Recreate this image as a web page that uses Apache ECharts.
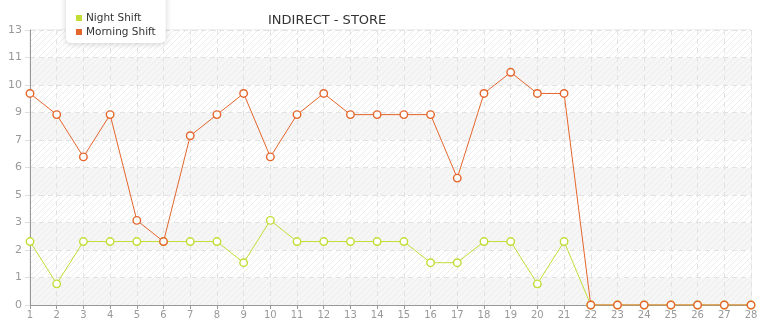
<!DOCTYPE html>
<html><head><meta charset="utf-8">
<script src="https://cdn.jsdelivr.net/npm/echarts@6/dist/echarts.min.js"></script>
<style>html,body{margin:0;padding:0;background:#fff}#c{width:765px;height:320px}</style>
</head><body><div id="c"></div>
<script>
var categories = ['1','2','3','4','5','6','7','8','9','10','11','12','13','14','15','16','17','18','19','20','21','22','23','24','25','26','27','28'];
var nightShift = [3,1,3,3,3,3,3,3,2,4,3,3,3,3,3,2,2,3,3,1,3,0,0,0,0,0,0,0];
var morningShift = [10,9,7,9,4,3,8,9,10,7,9,10,9,9,9,9,6,10,11,10,10,0,0,0,0,0,0,0];
var yTickLabels = ['0','1','2','3','5','6','7','9','10','11','13'];
var seriesNames = ['Night Shift','Morning Shift'];
var seriesColors = ['#c2dd35','#e4662c'];

function hatch(bg){
  var c = document.createElement('canvas'); c.width = 6; c.height = 6;
  var g = c.getContext('2d'); g.fillStyle = bg; g.fillRect(0,0,6,6);
  g.strokeStyle = '#ececec'; g.lineWidth = 1;
  g.beginPath(); g.moveTo(-1,7); g.lineTo(7,-1); g.moveTo(-1,1); g.lineTo(1,-1); g.moveTo(5,7); g.lineTo(7,5); g.stroke();
  return {image: c, repeat: 'repeat'};
}
var chart = echarts.init(document.getElementById('c'), null, {renderer:'canvas'});
var font = 'Verdana, "DejaVu Sans", sans-serif';
chart.setOption({
  animation:false,
  textStyle:{fontFamily:font},
  title:{text:'INDIRECT - STORE', left:263, top:9, textStyle:{fontSize:13, fontWeight:'normal', color:'#333', fontFamily:font}},
  legend:{data:[{name:seriesNames[0], itemStyle:{color:seriesColors[0], borderWidth:0}},
                {name:seriesNames[1], itemStyle:{color:seriesColors[1], borderWidth:0}}],
    orient:'vertical', left:66, top:-10, padding:[21,10,4,10], itemGap:0, itemWidth:6, itemHeight:6,
    icon:'rect', backgroundColor:'#fff', borderRadius:5, shadowBlur:6, shadowColor:'rgba(0,0,0,0.18)', shadowOffsetY:1,
    textStyle:{fontSize:10.5, color:'#333', fontFamily:font, padding:[0,0,0,-1], lineHeight:14}},
  grid:{left:30, right:14, top:30, bottom:15, show:true, borderColor:'#e2e2e2', borderWidth:1, backgroundColor:'transparent'},
  xAxis:{type:'category', data:categories, boundaryGap:false,
    axisLine:{lineStyle:{color:'#999'}}, axisTick:{show:true, length:4, lineStyle:{color:'#999'}},
    axisLabel:{color:'#999', fontSize:10, margin:5, interval:0},
    splitLine:{show:true, lineStyle:{color:'#e2e2e2', type:[5,4]}}},
  yAxis:{type:'value', min:0, max:13, interval:1.3,
    axisLine:{show:true, lineStyle:{color:'#999'}}, axisTick:{show:true, length:5, lineStyle:{color:'#ddd'}},
    axisLabel:{color:'#999', fontSize:11, margin:8, formatter:function(v){var i=Math.round(v/1.3); return yTickLabels[i];}},
    splitLine:{show:true, lineStyle:{color:'#e2e2e2', type:[5,4]}},
    splitArea:{show:true, areaStyle:{color:[hatch('#f6f6f6'), hatch('#ffffff')]}}},
  series:[
    {name:seriesNames[0], type:'line', data:nightShift, color:seriesColors[0], symbol:'circle', symbolSize:7.5,
     lineStyle:{width:1, color:seriesColors[0]}, itemStyle:{color:'#fff', borderColor:seriesColors[0], borderWidth:1.4}, z:2},
    {name:seriesNames[1], type:'line', data:morningShift, color:seriesColors[1], symbol:'circle', symbolSize:7.5,
     lineStyle:{width:1, color:seriesColors[1]}, itemStyle:{color:'#fff', borderColor:seriesColors[1], borderWidth:1.4}, z:3}
  ]
});
</script></body></html>
